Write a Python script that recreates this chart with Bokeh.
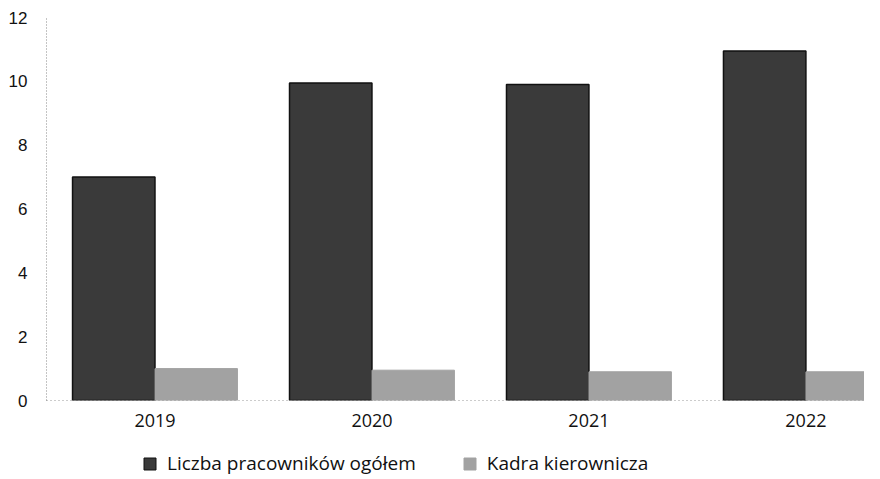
from bokeh.plotting import figure
from bokeh.layouts import column
from bokeh.models import Range1d, Legend, LegendItem, FixedTicker, ColumnDataSource
from bokeh.embed import file_html
from bokeh.resources import INLINE

years = ["2019", "2020", "2021", "2022"]
total_staff = [7.0, 9.95, 9.9, 10.95]
management = [1.0, 0.95, 0.9, 0.9]
series_labels = ["Liczba pracowników ogółem", "Kadra kierownicza"]
y_ticks = [0, 2, 4, 6, 8, 10, 12]

dark = "#3a3a3a"
light = "#a2a2a2"

centers = [i + 0.5 for i in range(len(years))]
offset = 0.19
bar_w = 0.38

src = ColumnDataSource(dict(
    x1=[c - offset for c in centers], top1=total_staff,
    x2=[c + offset for c in centers], top2=management,
))

p = figure(width=864, height=436, output_backend="svg", toolbar_location=None,
           x_range=Range1d(0, 3.77), y_range=Range1d(0, 12),
           min_border_left=46, min_border_right=0, min_border_top=17, min_border_bottom=36)
p.outline_line_color = None
p.grid.grid_line_color = None

p.vbar(x="x1", top="top1", width=bar_w, source=src,
       fill_color=dark, line_color="#111111", line_width=1.5)
p.vbar(x="x2", top="top2", width=bar_w, source=src,
       fill_color=light, line_color=light, line_width=1)

p.xaxis.ticker = FixedTicker(ticks=centers)
p.xaxis.major_label_overrides = {c: y for c, y in zip(centers, years)}
p.xaxis.major_tick_line_color = None
p.xaxis.minor_tick_line_color = None
p.xaxis.axis_line_color = "#999999"
p.xaxis.axis_line_dash = "1 3"
p.xaxis.major_label_text_font = "Open Sans"
p.xaxis.major_label_text_font_size = "18px"
p.xaxis.major_label_text_color = "#111111"
p.xaxis.major_label_standoff = 7

p.yaxis.ticker = FixedTicker(ticks=y_ticks)
p.yaxis.major_tick_line_color = None
p.yaxis.minor_tick_line_color = None
p.yaxis.axis_line_color = "#888888"
p.yaxis.axis_line_dash = "1 2"
p.yaxis.major_label_text_font = "Liberation Sans"
p.yaxis.major_label_text_font_size = "17px"
p.yaxis.major_label_text_color = "#111111"
p.yaxis.major_label_standoff = 13

# legend row (dummy renderers with no drawable value)
lg = figure(width=864, height=40, output_backend="svg", toolbar_location=None,
            x_range=Range1d(0, 1), y_range=Range1d(0, 1),
            x_axis_location=None, y_axis_location=None,
            min_border_left=0, min_border_right=0, min_border_top=0, min_border_bottom=0)
lg.outline_line_color = None
lg.grid.grid_line_color = None
dummy = ColumnDataSource(dict(x=[0.5], top=[float("nan")]))
d1 = lg.vbar(x="x", top="top", width=0.1, source=dummy, fill_color=dark, line_color="#111111")
d2 = lg.vbar(x="x", top="top", width=0.1, source=dummy, fill_color=light, line_color=light)

legend = Legend(items=[LegendItem(label=series_labels[0], renderers=[d1]),
                       LegendItem(label=series_labels[1], renderers=[d2])],
                orientation="horizontal", location=(96, 0),
                label_text_font="Open Sans", label_text_font_size="19px",
                label_text_color="#111111",
                glyph_width=15, glyph_height=15, spacing=46,
                border_line_color=None, background_fill_alpha=0,
                padding=4, margin=0, label_standoff=10)
lg.add_layout(legend, "center")

layout = column(p, lg, spacing=0)
open("out.html", "w").write(file_html(layout, INLINE))
